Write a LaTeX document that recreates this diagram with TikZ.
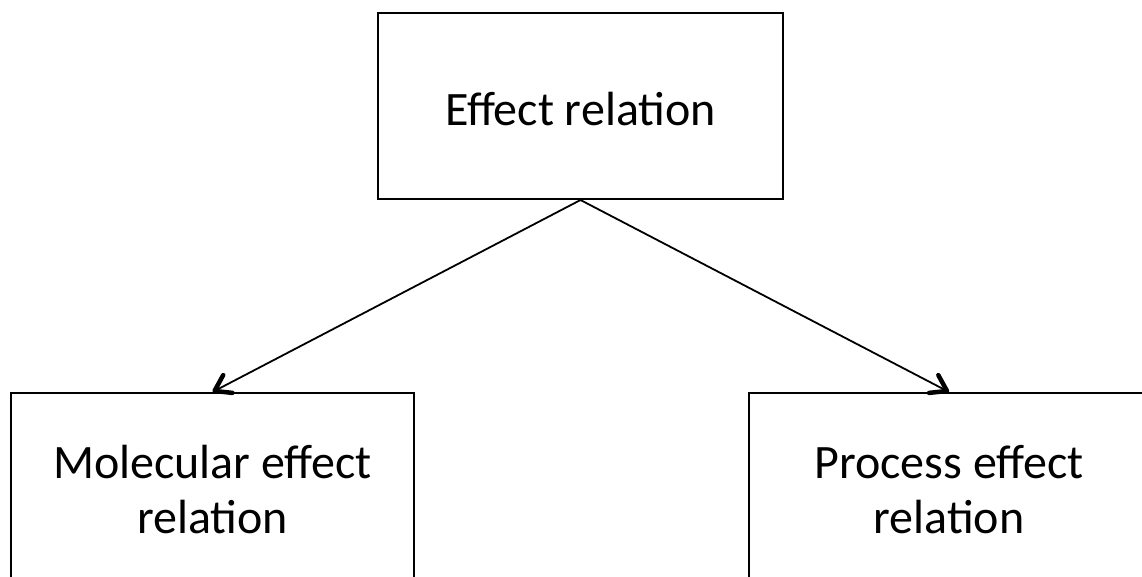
\documentclass[tikz,border=0pt]{standalone}
\usepackage{fontspec}
\setmainfont{Carlito}
\usetikzlibrary{arrows.meta}
\begin{document}
\begin{tikzpicture}[x=1pt,y=-1pt,
  box/.style={draw,line width=2pt,minimum width=#1,minimum height=186pt,inner sep=0pt},
  lbl/.style={align=center,font=\fontsize{48}{55}\selectfont,inner sep=0pt},
  conn/.style={line width=1.8pt,-{Straight Barb[length=15pt,width=20pt,line width=4.5pt,round]}}]
\useasboundingbox (0,0) rectangle (1142,576);
\clip (0,0) rectangle (1142,576);
\node[box=405pt] (top) at (580.5,106) {};
\node[box=403pt] (left) at (212.5,486) {};
\node[box=400pt] (right) at (949,486) {};
\node[lbl] (toptext) at (580.5,109) {Effect relation};
\node[lbl] (lefttext) at (212.5,490) {Molecular effect\\relation};
\node[lbl] (righttext) at (949,490) {Process effect\\relation};
\draw[conn] (top.south) -- (left.north);
\draw[conn] (top.south) -- (right.north);
\end{tikzpicture}
\end{document}
